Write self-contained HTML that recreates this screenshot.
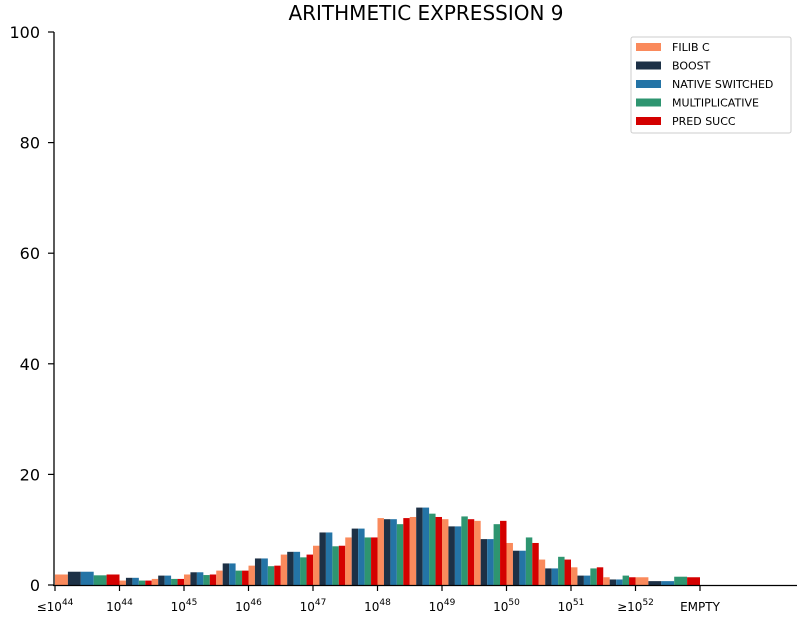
<!DOCTYPE html>
<html><head><meta charset="utf-8"><style>
html,body{margin:0;padding:0;background:#fff;}
svg{display:block;font-family:"DejaVu Sans","Liberation Sans",sans-serif;}
</style></head><body>
<svg id="chart" width="798" height="617">
<text x="426" y="20" font-size="20" text-anchor="middle">ARITHMETIC EXPRESSION 9</text>
<g id="bars"></g>
<g id="axes"></g>
<g>
<rect x="631" y="37" width="160" height="96" fill="#fff" stroke="#ccc" stroke-width="1" rx="2"/>
<g id="legend-items"></g>
</g>
</svg>
<script>
const seriesNames=["FILIB C","BOOST","NATIVE SWITCHED","MULTIPLICATIVE","PRED SUCC"];
const seriesColors=["#fa8a5c","#1d3146","#2474a6","#2e9570","#d40000"];
const filib=[1.9,0.8,1.1,1.9,2.6,3.5,5.5,7.1,8.6,12.1,12.3,11.9,11.6,7.6,4.6,3.2,1.4,1.4];
const boost=[2.4,1.3,1.7,2.3,3.9,4.8,6.0,9.5,10.2,11.9,14.0,10.6,8.3,6.2,3.0,1.7,1.0,0.7];
const nativeSw=[2.4,1.3,1.7,2.3,3.9,4.8,6.0,9.5,10.2,11.9,14.0,10.6,8.3,6.2,3.0,1.7,1.0,0.7];
const multiplicative=[1.75,0.8,1.1,1.8,2.6,3.4,5.0,7.0,8.6,11.0,12.9,12.4,11.0,8.6,5.1,3.0,1.7,1.5];
const predSucc=[1.9,0.8,1.1,1.9,2.6,3.5,5.5,7.1,8.6,12.1,12.3,11.9,11.6,7.6,4.6,3.2,1.4,1.4];
const yTicks=[0,20,40,60,80,100];
const xTickLabels=[["≤10","44"],["10","44"],["10","45"],["10","46"],["10","47"],["10","48"],["10","49"],["10","50"],["10","51"],["≥10","52"],["EMPTY",""]];

const NS="http://www.w3.org/2000/svg";
const x0=55,tickStep=64.5,baseY=585,yScale=5.53;
const y=v=>baseY-v*yScale;
// bin edges: first and last bins span a full tick step, middle bins half
function binEdges(i,n){
  if(i===0) return [x0,x0+tickStep];
  if(i===n-1) return [x0+tickStep*(xTickLabels.length-2),x0+tickStep*(xTickLabels.length-1)];
  const s=x0+tickStep+(i-1)*tickStep/2; return [s,s+tickStep/2];
}
const all=[filib,boost,nativeSw,multiplicative,predSucc];
const bars=document.getElementById('bars');
const n=filib.length;
for(let i=0;i<n;i++){
  const [a,b]=binEdges(i,n); const w=(b-a)/5;
  all.forEach((arr,s)=>{
    const r=document.createElementNS(NS,'rect');
    r.setAttribute('x',a+s*w); r.setAttribute('width',w);
    r.setAttribute('y',y(arr[i])); r.setAttribute('height',baseY-y(arr[i]));
    r.setAttribute('fill',seriesColors[s]);
    
    
    bars.appendChild(r);
  });
}
const axes=document.getElementById('axes');
function add(tag,attrs,txt){const e=document.createElementNS(NS,tag);for(const k in attrs)e.setAttribute(k,attrs[k]);if(txt!==undefined)e.textContent=txt;axes.appendChild(e);return e;}
add('line',{x1:54,y1:32,x2:54,y2:586,stroke:'#000','stroke-width':1.3});
add('line',{x1:53,y1:585.5,x2:797,y2:585.5,stroke:'#000','stroke-width':1.3});
yTicks.forEach(v=>{
  add('line',{x1:48,y1:y(v),x2:54,y2:y(v),stroke:'#000','stroke-width':1.2});
  const t=add('text',{x:40,y:y(v)+6,'font-size':16,'text-anchor':'end'},String(v));
  
  
});
xTickLabels.forEach((l,i)=>{
  const xx=x0+i*tickStep;
  add('line',{x1:xx,y1:585,x2:xx,y2:591,stroke:'#000','stroke-width':1.2});
  const t=add('text',{x:xx,y:611,'font-size':12,'text-anchor':'middle'});
  
  
  const b=document.createElementNS(NS,'tspan');b.textContent=l[0];t.appendChild(b);
  if(l[1]){const s=document.createElementNS(NS,'tspan');s.setAttribute('dy','-6');s.setAttribute('font-size','9');s.textContent=l[1];t.appendChild(s);}
});
const lg=document.getElementById('legend-items');
seriesNames.forEach((nm,i)=>{
  const yy=47+i*18.5;
  const r=document.createElementNS(NS,'rect');
  r.setAttribute('x',636);r.setAttribute('y',yy-4);r.setAttribute('width',25);r.setAttribute('height',8);r.setAttribute('fill',seriesColors[i]);
  
  
  lg.appendChild(r);
  const t=document.createElementNS(NS,'text');
  t.setAttribute('x',672);t.setAttribute('y',yy+4);t.setAttribute('font-size',11);t.textContent=nm;
  
  
  lg.appendChild(t);
});
</script>
</body></html>
